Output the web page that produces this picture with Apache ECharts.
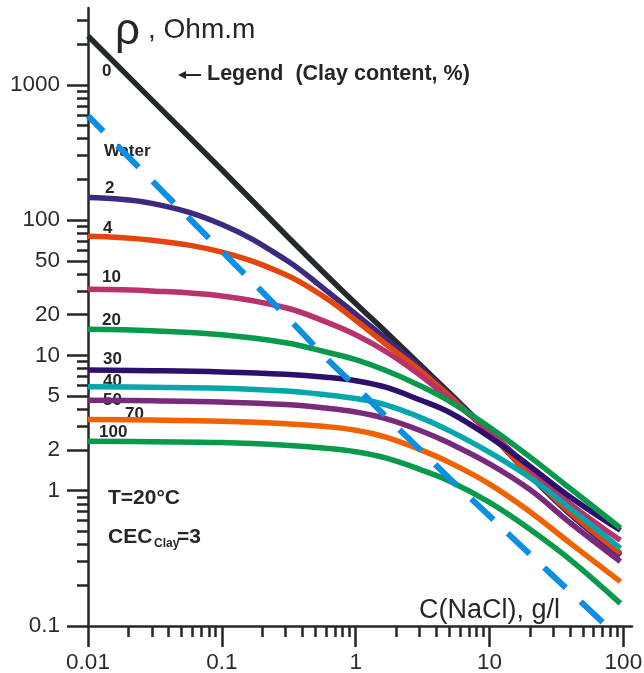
<!DOCTYPE html>
<html>
<head>
<meta charset="utf-8">
<script src="https://cdn.jsdelivr.net/npm/echarts@6/dist/echarts.min.js"></script>
<style>
html, body { margin: 0; padding: 0; background: #fff; }
#chart { width: 644px; height: 673px; }
</style>
</head>
<body>
<div id="chart"></div>
<script>
// C(NaCl), g/l - shared by all clay-content curves
const conc = [0.01, 0.03, 0.1, 0.3, 0.6, 1, 1.7, 3, 5, 10, 20, 40, 95]

// resistivity, Ohm.m, one array per clay content (%)
const rho0 = [2300, 775, 236, 78, 39.5, 24.2, 14.8, 8.6, 5.3, 2.7, 1.3, 0.67, 0.335]
const rho2 = [147, 133, 93, 51, 30.3, 20.2, 13.2, 8.2, 5.15, 2.68, 1.3, 0.675, 0.33]
const rho4 = [76, 71, 58, 39.5, 26.5, 18.2, 12, 7.8, 5.0, 2.66, 1.32, 0.69, 0.345]
const rho10 = [30.8, 30, 27.5, 22.5, 17.7, 14.2, 10.6, 7.2, 4.8, 2.75, 1.45, 0.8, 0.43]
const rho20 = [15.6, 15.2, 14.2, 12.4, 10.6, 9.3, 7.7, 6.0, 4.6, 2.95, 1.78, 1.04, 0.53]
const rho30 = [7.8, 7.72, 7.55, 7.25, 6.9, 6.5, 5.8, 4.7, 3.8, 2.5, 1.52, 0.9, 0.51]
const rho40 = [5.87, 5.82, 5.72, 5.45, 5.12, 4.8, 4.3, 3.5, 2.78, 1.92, 1.25, 0.74, 0.375]
const rho50 = [4.67, 4.62, 4.52, 4.33, 4.08, 3.82, 3.4, 2.8, 2.25, 1.58, 1.02, 0.58, 0.3]
const rho70 = [3.36, 3.33, 3.26, 3.13, 2.98, 2.8, 2.48, 2.02, 1.62, 1.12, 0.7, 0.41, 0.213]
const rho100 = [2.32, 2.3, 2.27, 2.17, 2.06, 1.94, 1.74, 1.44, 1.18, 0.82, 0.52, 0.31, 0.147]

// water line
const waterConc = [0.01, 0.03, 0.1, 0.3, 0.6, 1, 1.7, 3, 5, 10, 20, 40, 75]
const waterRho = [590, 196, 59, 19.7, 9.6, 5.9, 3.5, 2.03, 1.24, 0.65, 0.34, 0.179, 0.1]

// drawing order: later series sit on top
const clayNames = ['0', '2', '4', '10', '30', '40', '50', '70', '100', '20']
const clayValues = [rho0, rho2, rho4, rho10, rho30, rho40, rho50, rho70, rho100, rho20]
const clayColors = ['#24292b', '#3d2a80', '#e2460a', '#b8336e', '#2e0f6c', '#06a6ab', '#7a2a7a', '#f06100', '#079a4a', '#079a4a']

// ticks
const xMajor = [0.01, 0.1, 1, 10, 100]
const yMajor = [0.1, 1, 2, 5, 10, 20, 50, 100, 1000]
const mult = [2, 3, 4, 5, 6, 7, 8, 9]
const xMinor = []
;[0.01, 0.1, 1, 10].forEach(d => mult.forEach(m => xMinor.push(+(d * m).toPrecision(3))))
const yMinor = []
;[0.1, 1, 10, 100].forEach(d => mult.forEach(m => yMinor.push(+(d * m).toPrecision(3))))
yMinor.push(2000, 3000)

const ink = '#262626'
const font = 'Liberation Sans'

const chart = echarts.init(document.getElementById('chart'))

const fmt = v => String(+(+v).toPrecision(4))

const makeAxis = (min, max, pos, ticks, len, labels) => ({
    type: 'log',
    logBase: 10,
    min,
    max,
    position: pos,
    axisLine: { show: labels, onZero: false, lineStyle: { color: ink, width: 2.5 } },
    axisTick: { show: true, inside: false, length: len, customValues: ticks, lineStyle: { color: ink, width: 2.5 } },
    axisLabel: {
        show: labels,
        customValues: ticks,
        margin: pos === 'left' ? 28 : 25,
        fontSize: 22.5,
        fontFamily: font,
        color: '#2b2b2b',
        formatter: fmt
    },
    splitLine: { show: false },
    minorTick: { show: false },
    minorSplitLine: { show: false }
})

const series = clayNames.map((name, i) => ({
    name,
    type: 'line',
    symbol: 'none',
    smooth: 0.4,
    data: conc.map((c, j) => [c, clayValues[i][j]]),
    lineStyle: { color: clayColors[i], width: 5.5 },
    itemStyle: { color: clayColors[i] }
}))

series.push({
    name: 'Water',
    type: 'line',
    symbol: 'none',
    smooth: 0.4,
    data: waterConc.map((c, j) => [c, waterRho[j]]),
    lineStyle: { color: '#0a8fe4', width: 6, type: [30, 20], dashOffset: 8 }
})

const txt = (text, x, y, size, bold) => ({
    type: 'text',
    x,
    y,
    style: {
        text,
        font: (bold ? 'bold ' : '') + size + 'px "' + font + '"',
        fill: ink,
        textAlign: 'left',
        textVerticalAlign: 'middle',
        verticalAlign: 'middle'
    }
})

const curveLabels = [
    ['0', 102, 71], ['Water', 104, 151], ['2', 105, 188], ['4', 103, 228],
    ['10', 102, 277], ['20', 102, 320], ['30', 103, 359], ['40', 103, 381],
    ['50', 103, 400], ['70', 125, 414], ['100', 99, 432]
]

const option = {
    animation: false,
    backgroundColor: '#fff',
    grid: { left: 88, top: 8, width: 544, height: 618, outerBoundsMode: 'none', containLabel: false },
    xAxis: [
        makeAxis(0.01, 116, 'bottom', xMajor, 21, true),
        makeAxis(0.01, 116, 'bottom', xMinor, 11, false)
    ],
    yAxis: [
        makeAxis(0.1, 3700, 'left', yMajor, 21, true),
        makeAxis(0.1, 3700, 'left', yMinor, 11, false)
    ],
    series,
    graphic: [
        txt('ρ', 115, 32, 44, false),
        txt(', Ohm.m', 148, 30, 28, false),
        txt('C(NaCl), g/l', 419, 611, 27, false),
        {
            type: 'line',
            shape: { x1: 183, y1: 75, x2: 201, y2: 75 },
            style: { stroke: ink, lineWidth: 2 }
        },
        {
            type: 'polygon',
            shape: { points: [[178, 75], [186, 71], [186, 79]] },
            style: { fill: ink }
        },
        txt('Legend  (Clay content, %)', 207, 74, 21.5, true),
        txt('T=20°C', 108, 498, 21, true),
        txt('CEC', 108, 537, 21, true),
        txt('Clay', 154, 544, 12, true),
        txt('=3', 177, 537, 21, true)
    ].concat(curveLabels.map(l => txt(l[0], l[1], l[2], 17, true)))
}

chart.setOption(option)
</script>
</body>
</html>
